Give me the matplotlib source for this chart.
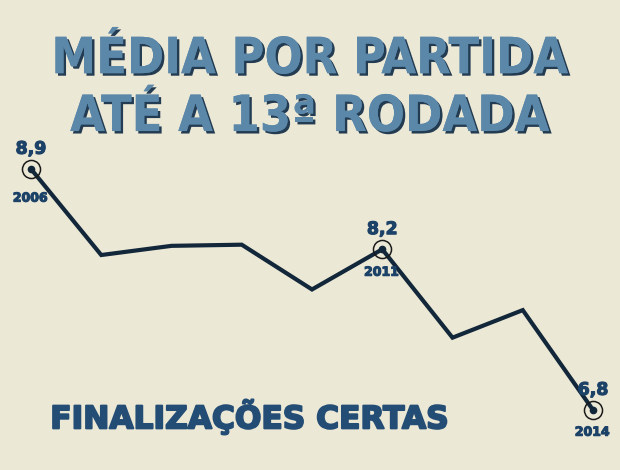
import matplotlib.pyplot as plt
import matplotlib.patheffects as pe

# finalizações certas por partida (até a 13ª rodada)
anos = [2006, 2007, 2008, 2009, 2010, 2011, 2012, 2013, 2014]
media = [8.9, 8.15, 8.23, 8.24, 7.85, 8.2, 7.43, 7.67, 6.8]
destaques = [2006, 2011, 2014]
rotulos = ['8,9', '8,2', '6,8']
desloc_ano = [-21, -16.5, -16]   # distância do ano abaixo do ponto (pt)

bg = '#ece8d6'
navy = '#1c4268'

fig = plt.figure(figsize=(6.2, 4.7), dpi=100, facecolor=bg)
ax = fig.add_axes([0, 0, 1, 1])
ax.set_facecolor(bg)
ax.set_xlim(2005.559, 2014.384)
ax.set_ylim(6.277, 10.372)
ax.axis('off')

ax.plot(anos, media, color='#13273a', lw=3, solid_joinstyle='miter', zorder=2)

grosso = [pe.withStroke(linewidth=0.8, foreground=navy)]
for ano, rot, dy in zip(destaques, rotulos, desloc_ano):
    v = media[anos.index(ano)]
    ax.plot(ano, v, 'o', ms=13, mfc='none', mec='#1a1a1a', mew=1.1, zorder=3)
    ax.plot(ano, v, 'o', ms=4.5, color='#13273a', zorder=3)
    ax.annotate(rot, (ano, v), xytext=(0, 14.5), textcoords='offset points',
                ha='center', va='center', fontsize=12.5, fontweight='bold',
                color=navy, path_effects=grosso)
    ax.annotate(str(ano), (ano, v), xytext=(-0.5, dy), textcoords='offset points',
                ha='center', va='center', fontsize=9, fontweight='bold',
                color=navy, path_effects=grosso)

shadow = [pe.withSimplePatchShadow(offset=(1.8, -1.8), shadow_rgbFace='#233c52', alpha=1),
          pe.Normal()]
titulo = dict(ha='center', va='center', fontsize=36, fontweight='bold',
              fontstretch='condensed', color='#5b87a9', path_effects=shadow)
fig.text(0.5, 0.874, 'MÉDIA POR PARTIDA', **titulo)
fig.text(0.5, 0.751, 'ATÉ A 13ª RODADA', **titulo)

fig.text(0.081, 0.113, 'FINALIZAÇÕES CERTAS', ha='left', va='center', fontsize=22.5,
         fontweight='bold', color='#234d74',
         path_effects=[pe.withStroke(linewidth=1.4, foreground='#234d74')])

fig.savefig('out.png', dpi=100, facecolor=bg)
